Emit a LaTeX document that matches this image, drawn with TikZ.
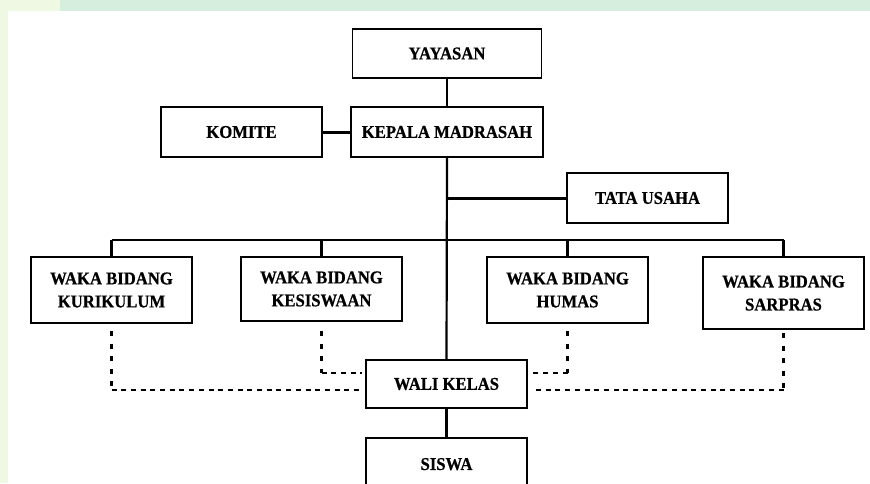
\documentclass[tikz,border=0pt]{standalone}
\usepackage{fontspec}
\setmainfont[FakeStretch=0.925,FakeBold=0.6]{Liberation Serif}
\definecolor{bgpale}{HTML}{EEF8E2}
\definecolor{bgtop}{HTML}{D6EEDD}
\begin{document}
\begin{tikzpicture}[x=1pt,y=-1pt,
  box/.style={draw=black,line width=1.9pt,fill=white,rectangle,align=center,
    font=\bfseries\fontsize{18}{23}\selectfont,inner sep=0pt},
  conn/.style={line width=2.2pt},
  thickconn/.style={line width=3pt},
  vdash/.style={line width=2.5pt,dash pattern=on 5pt off 7.5pt},
  hdash/.style={line width=2.5pt,dash pattern=on 5pt off 4.7pt}]
\clip (0,0) rectangle (870,483);
\fill[bgpale] (0,0) rectangle (870,483);
\fill[bgtop] (60,0) rectangle (870,11);
\fill[white] (8,11) rectangle (870,483);
% nodes
\node[box,minimum width=189pt,minimum height=49pt] (yay) at (447,53.5) {YAYASAN};
\node[box,minimum width=161pt,minimum height=50pt] (kom) at (241.5,132) {KOMITE};
\node[box,minimum width=192pt,minimum height=50pt] (kep) at (447,132) {KEPALA MADRASAH};
\node[box,minimum width=161pt,minimum height=50pt] (tu) at (647.5,198) {TATA USAHA};
\node[box,minimum width=161pt,minimum height=66pt] (kur) at (111.5,290) {WAKA BIDANG\\KURIKULUM};
\node[box,minimum width=161pt,minimum height=64pt] (kes) at (321.5,289) {WAKA BIDANG\\KESISWAAN};
\node[box,minimum width=161pt,minimum height=66pt] (hum) at (567.5,290) {WAKA BIDANG\\HUMAS};
\node[box,minimum width=161pt,minimum height=72pt,text depth=-9pt] (sar) at (783.5,293) {WAKA BIDANG\\SARPRAS};
\node[box,minimum width=161pt,minimum height=48pt] (wali) at (446.5,384) {WALI KELAS};
\node[box,minimum width=161pt,minimum height=64pt,text depth=0pt] (sis) at (446.5,470) {\raisebox{12pt}{SISWA}};
% coordinates
\coordinate (tj) at (447,198);
\coordinate (bl) at (111.5,240);
\coordinate (br) at (783.5,240);
\coordinate (b2) at (321.5,240);
\coordinate (b3) at (567.5,240);
\coordinate (kurs) at (111.5,331);
\coordinate (kesS) at (321.5,331);
\coordinate (humS) at (567.5,331);
\coordinate (sarS) at (783.5,333);
\coordinate (kurc) at (111.5,390);
\coordinate (kesc) at (321.5,373);
\coordinate (humc) at (567.5,373);
\coordinate (sarc) at (783.5,390);
\coordinate (wl1) at (361,390);
\coordinate (wl2) at (362,373);
\coordinate (wr1) at (531,373);
\coordinate (wr2) at (533,390);
% solid connectors
\draw[conn] (yay.south) -- (kep.north);
\draw[thickconn] (kom.east) -- (kep.west);
\draw[conn] (kep.south) -- (wali.north);
\draw[thickconn] (tu.west) -- (tj);
\draw[conn,line width=2.6pt] (bl) -- (br);
\draw[conn] (bl) -- (kur.north);
\draw[conn] (b2) -- (kes.north);
\draw[conn] (b3) -- (hum.north);
\draw[conn] (br) -- (sar.north);
\draw[conn] (wali.south) -- (sis.north);
% dashed connectors
\draw[vdash] (kurs) -- (kurc);
\draw[hdash] (kurc) -- (wl1);
\draw[vdash] (kesS) -- (kesc);
\draw[hdash] (kesc) -- (wl2);
\draw[vdash] (humS) -- (humc);
\draw[hdash] (humc) -- (wr1);
\draw[vdash] (sarS) -- (sarc);
\draw[hdash] (sarc) -- (wr2);
\end{tikzpicture}
\end{document}
